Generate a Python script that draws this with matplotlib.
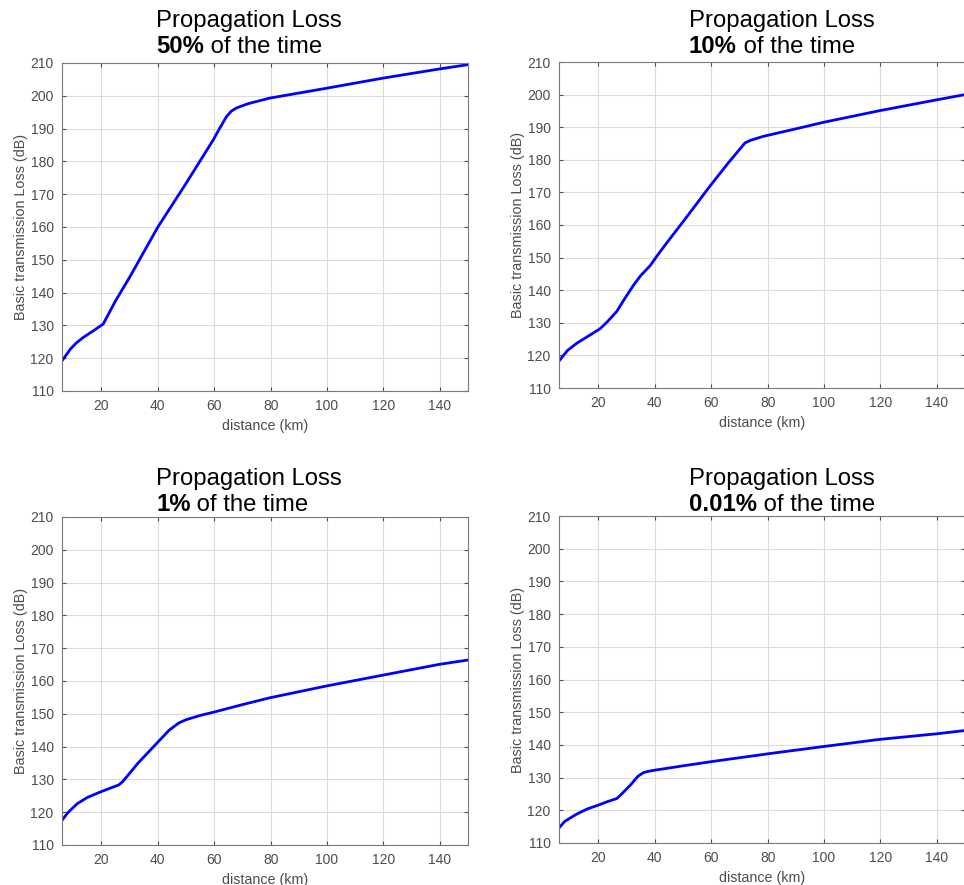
# Propagation loss vs distance, four time percentages
import numpy as np
import matplotlib
matplotlib.use('Agg')
import matplotlib.pyplot as plt

plt.rcParams['font.family'] = ['Liberation Sans', 'DejaVu Sans']

# distance (km) / basic transmission loss (dB)
x_50 = [6, 7.5, 9, 11, 13.5, 17, 20.6, 25, 30, 40, 50, 59.6, 62, 64.3, 66, 67.9, 72, 79.7, 99.8, 119.9, 140, 150]
y_50 = [119.2, 121, 122.8, 124.6, 126.3, 128.3, 130.4, 137.5, 144.7, 160, 173.3, 186.5, 190.2, 193.6, 195.3, 196.3, 197.6, 199.3, 202.3, 205.4, 208.2, 209.5]

x_10 = [6.2, 9, 12.4, 17.1, 20.6, 23, 26.5, 29, 32.4, 35, 38.3, 41, 44.2, 50, 59.6, 66, 72, 74, 78.5, 90, 99.8, 119.9, 140, 150]
y_10 = [118.5, 121.5, 123.8, 126.3, 128.2, 130.2, 133.5, 137, 141.5, 144.5, 147.5, 150.8, 154.5, 161, 172, 179, 185.2, 186, 187.2, 189.5, 191.5, 195.1, 198.4, 200]

x_1 = [6, 8, 11.4, 15, 19.7, 23, 26.1, 27.5, 33, 39.7, 44, 47.4, 50, 55, 59.8, 70, 79.8, 99.9, 119.9, 140, 150]
y_1 = [117.5, 119.8, 122.6, 124.5, 126.2, 127.3, 128.3, 129.3, 135, 141.1, 145, 147.2, 148.2, 149.5, 150.5, 152.8, 154.9, 158.5, 161.8, 165.1, 166.4]

x_001 = [6.2, 8, 12.4, 16, 20, 23, 26.5, 28, 31.2, 34, 35.9, 37.5, 39.5, 50, 60.2, 80.3, 99.8, 119.9, 140, 150]
y_001 = [114.8, 116.6, 118.9, 120.4, 121.6, 122.6, 123.6, 124.8, 127.6, 130.4, 131.5, 131.9, 132.2, 133.6, 134.9, 137.3, 139.5, 141.7, 143.4, 144.4]

percents = ['50%', '10%', '1%', '0.01%']
xs = [x_50, x_10, x_1, x_001]
ys = [y_50, y_10, y_1, y_001]

W, H = 964, 885
fig = plt.figure(figsize=(W / 100, H / 100), dpi=100)

# axes boxes in pixels: left, top, right, bottom
boxes = [(62, 63, 468, 391), (559, 62, 965, 388), (62, 517, 468, 845), (559, 516, 965, 843)]
# title left x and baselines (pixels)
titles = [(156, 27, 53), (689, 27, 53), (156, 485, 511), (689, 485, 511)]

grey = '#4d4d4d'
for i in range(4):
    l, t, r, b = boxes[i]
    ax = fig.add_axes([l / W, 1 - b / H, (r - l) / W, (b - t) / H])
    ax.plot(xs[i], ys[i], color='#0000ff', lw=2.0)
    ax.set_xlim(6, 150)
    ax.set_ylim(110, 210)
    ax.set_xticks(np.arange(20, 150, 20))
    ax.set_yticks(np.arange(110, 211, 10))
    ax.grid(True, color='#dcdcdc', lw=0.8)
    ax.tick_params(direction='in', length=3, top=True, right=True, colors=grey,
                   labelsize=10, pad=6)
    for s in ax.spines.values():
        s.set_color('#7a7a7a')
        s.set_linewidth(0.8)
    ax.set_xlabel('distance (km)', fontsize=10.3, color=grey, labelpad=4)
    ax.set_ylabel('Basic transmission Loss (dB)', fontsize=10.4, color=grey, labelpad=2)

    tx, y1, y2 = titles[i]
    fig.text(tx / W, 1 - y1 / H, 'Propagation Loss', fontsize=17.2, ha='left', va='baseline')
    bold = fig.text(tx / W, 1 - y2 / H, percents[i], fontsize=17.2, fontweight='bold',
                    ha='left', va='baseline')
    ax.annotate(' of the time', xy=(1, 0), xycoords=bold, fontsize=17.2,
                ha='left', va='bottom', annotation_clip=False)

fig.savefig('out.png', dpi=100)
